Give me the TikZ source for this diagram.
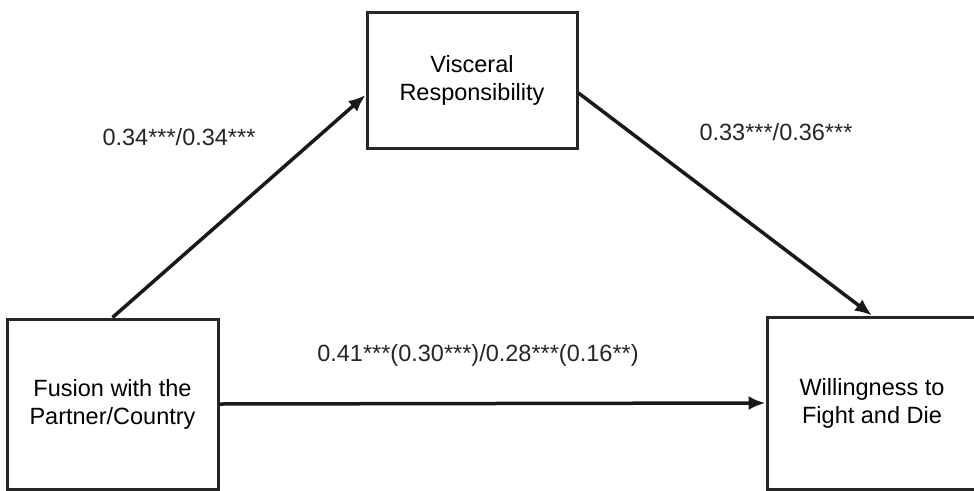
\documentclass[tikz,border=0pt]{standalone}
\usepackage{fontspec}
\setmainfont{Liberation Sans}
\usetikzlibrary{arrows.meta}
\begin{document}
\begin{tikzpicture}[x=1pt,y=-1pt,
  box/.style={draw=black!85,line width=3pt,minimum width=211pt,align=center,
    font=\fontsize{23.5pt}{28pt}\selectfont,inner sep=0pt},
  lbl/.style={font=\fontsize{23.5pt}{28pt}\selectfont,inner sep=0pt,text=black!85},
  arr/.style={draw=black!90,line width=3.5pt,-{Latex[length=17pt,width=14pt]}}]
\clip (0,0) rectangle (974,490);
\fill[white] (0,0) rectangle (974,490);
\node[box,minimum height=170pt] (fus) at (112.5,404) {Fusion with the\\Partner/Country};
\node[box,minimum width=210pt,minimum height=136pt] (vis) at (472,80) {Visceral\\Responsibility};
\node[box,minimum width=210pt,minimum height=172pt] (wil) at (872,403) {Willingness to\\Fight and Die};
\draw[arr] (fus.north) -- ([yshift=-15pt]vis.west);
\draw[arr] ([yshift=-13pt]vis.east) -- (wil.north);
\draw[arr] (fus.east) -- (wil.west);
\node[lbl] (l1) at (179,137) {0.34***/0.34***};
\node[lbl] (l2) at (776,132) {0.33***/0.36***};
\node[lbl] (l3) at (478,355) {0.41***(0.30***)/0.28***(0.16**)};
\end{tikzpicture}
\end{document}
